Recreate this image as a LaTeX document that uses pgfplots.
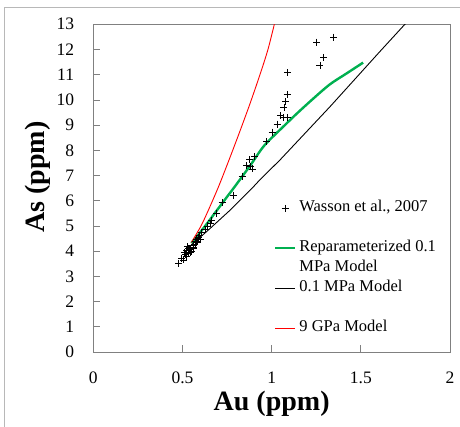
\documentclass[border=0pt]{standalone}
\usepackage{fontspec}
\setmainfont{Liberation Serif}
\usepackage{pgfplots}
\pgfplotsset{compat=1.18}
\definecolor{xlgreen}{RGB}{0,176,80}
\definecolor{axisgray}{RGB}{128,128,128}

\begin{document}
\begin{tikzpicture}
\path[use as bounding box] (0,0) rectangle (460pt,427pt);
\draw[black!28] (4.5pt,0pt) -- (4.5pt,419.5pt) -- (460pt,419.5pt);
\begin{axis}[
  at={(93.3pt,75pt)}, anchor=south west,
  scale only axis, width=356.7pt, height=327.7pt,
  xmin=0, xmax=2, ymin=0, ymax=13,
  xtick={0,0.5,1,1.5,2}, ytick={0,1,...,13},
  xtick pos=bottom, ytick pos=left,
  tick align=inside, major tick length=7pt,
  axis line style={axisgray, line width=0.8pt},
  tick style={axisgray, line width=0.8pt},
  /pgf/number format/assume math mode=true,
  tick label style={font=\fontsize{17.5}{17.5}\selectfont},
  yticklabel style={inner sep=0pt, xshift=-19pt},
  xticklabel style={inner sep=0pt, yshift=-19.7pt},
  xlabel={Au (ppm)},
  xlabel style={at={(axis description cs:0.5,-0.18)}, anchor=base,
    font=\fontsize{28}{28}\selectfont\bfseries},
  ylabel={As (ppm)},
  ylabel style={at={(axis description cs:-0.138,0.534)}, anchor=base,
    font=\fontsize{28}{28}\selectfont\bfseries},
  legend image code/.code={\draw[mark repeat=2,mark phase=2,#1]
    plot coordinates {(0pt,0pt) (10pt,0pt) (20pt,0pt)};},
  legend cell align=left,
  legend style={at={(axis description cs:0.506,0.462)}, anchor=north west,
    draw=none, fill=none, inner sep=0pt, row sep=25pt, column sep=3pt,
    font=\fontsize{16.5}{20}\selectfont,
    nodes={inner sep=0pt, text height=11pt, text depth=4pt}},
]

% Wasson et al., 2007
\addplot[only marks, mark=+, mark size=3.5pt, black,
  mark options={line width=0.9pt}] coordinates {
(0.478,3.52) (0.497,3.72) (0.506,3.65) (0.515,3.85) (0.520,3.80)
(0.510,3.95) (0.525,4.02) (0.534,3.91) (0.529,4.17) (0.535,4.10)
(0.540,4.05) (0.544,4.11) (0.545,3.95) (0.553,3.98) (0.559,4.24)
(0.560,4.15) (0.563,4.11) (0.570,4.25) (0.572,4.37) (0.578,4.34)
(0.581,4.47) (0.585,4.40) (0.590,4.55) (0.594,4.64) (0.600,4.47)
(0.609,4.75) (0.627,4.87) (0.641,5.00) (0.655,5.10) (0.664,5.20)
(0.692,5.48) (0.723,5.94) (0.784,6.22) (0.835,6.98) (0.860,7.40)
(0.878,7.62) (0.891,7.26) (0.882,7.36) (0.906,7.75) (0.972,8.35)
(1.002,8.72) (1.030,9.04) (1.050,9.38) (1.065,9.31) (1.087,9.29)
(1.069,9.70) (1.078,9.93) (1.087,10.20) (1.091,11.08) (1.271,11.38)
(1.293,11.69) (1.252,12.29) (1.349,12.49)
};
\addlegendentry{Wasson et al., 2007}

% Reparameterized 0.1 MPa Model
\addplot[xlgreen, line width=2.4pt, smooth] coordinates {
(0.550,4.32) (0.585,4.62) (0.636,5.08) (0.710,5.78) (0.813,6.75)
(0.888,7.48) (0.960,8.20) (1.074,9.00) (1.140,9.45) (1.233,10.05)
(1.327,10.62) (1.420,11.05) (1.513,11.48)
};
\addlegendentry{\begin{tabular}[t]{@{}l@{}}Reparameterized 0.1\\MPa Model\end{tabular}}

% 0.1 MPa Model
\addplot[black, line width=0.9pt] coordinates {
(0.550,4.25) (0.636,4.78) (0.701,5.20) (0.766,5.62) (0.888,6.48)
(0.934,6.83) (1.047,7.62) (1.327,9.73) (1.607,11.92) (1.747,13.00)
(1.760,13.10)
};
\addlegendentry{0.1 MPa Model}

% 9 GPa Model
\addplot[red, line width=0.9pt, smooth] coordinates {
(0.550,4.35) (0.600,4.95) (0.636,5.48) (0.700,6.52) (0.760,7.60)
(0.820,8.72) (0.880,9.88) (0.940,11.12) (0.980,12.02) (1.015,13.00)
(1.030,13.45)
};
\addlegendentry{9 GPa Model}

\end{axis}
\end{tikzpicture}
\end{document}
